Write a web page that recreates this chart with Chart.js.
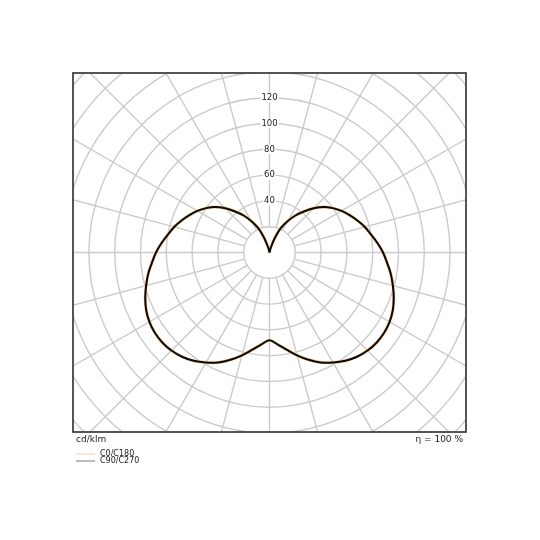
<!DOCTYPE html>
<html>
<head>
<meta charset="utf-8">
<script src="https://cdn.jsdelivr.net/npm/chart.js@4.4.1/dist/chart.umd.min.js"></script>
<style>
  html, body { margin: 0; padding: 0; background: #fff; }
  #wrap { width: 540px; height: 540px; }
</style>
</head>
<body>
<div id="wrap"><canvas id="ldc" width="540" height="540"></canvas></div>
<script>
// Polar luminous intensity diagram (cd/klm)

// gamma angle from nadir, degrees
const GAMMA = [0, 5, 10, 15, 20, 25, 30, 35, 40, 45, 50, 55, 60, 65, 70, 75, 80, 85, 90,
               95, 100, 105, 110, 115, 120, 125, 130, 135, 140, 145, 150, 155, 160, 165, 170, 175, 180];
// intensity per gamma, cd/klm
const C0_C180 = [68, 71.5, 76.5, 82.5, 88.5, 94, 98.5, 102.5, 105.5, 107.5, 108.5, 108.5, 107.5, 105.5, 102.5, 99, 95.5, 91.5, 88,
                 84, 80, 76.5, 72.5, 68.5, 64.5, 60, 55, 48.5, 41.5, 35, 28, 21, 12, 4, 0, 0, 0];
const C90_C270 = [68, 71.5, 76.5, 82.5, 88.5, 94, 98.5, 102.5, 105.5, 107.5, 108.5, 108.5, 107.5, 105.5, 102.5, 99, 95.5, 91.5, 88,
                  84, 80, 76.5, 72.5, 68.5, 64.5, 60, 55, 48.5, 41.5, 35, 28, 21, 12, 4, 0, 0, 0];

const RINGS = [20, 40, 60, 80, 100, 120, 140, 160, 180, 200, 220];
const TICK_LABELS = ['40', '60', '80', '100', '120'];
const SPOKE_STEP = 15;

const SERIES_NAMES = ['C0/C180', 'C90/C270'];
const SERIES_COLORS = ['#f8c68c', '#0a0a0a'];
const LEGEND_COLORS = ['#f8d2a2', '#777777'];

// one full curve: left half (C180 / C270) then right half (C0 / C90)
function toPoints(values) {
    const pts = [];
    for (let i = GAMMA.length - 1; i >= 0; i--) {
        const a = GAMMA[i] * Math.PI / 180;
        pts.push({ x: -values[i] * Math.sin(a), y: -values[i] * Math.cos(a) });
    }
    for (let i = 1; i < GAMMA.length; i++) {
        const a = GAMMA[i] * Math.PI / 180;
        pts.push({ x: values[i] * Math.sin(a), y: -values[i] * Math.cos(a) });
    }
    return pts;
}

const polarGrid = {
    id: 'polarGrid',
    beforeDatasetsDraw(chart) {
        const { ctx, chartArea: area, scales } = chart;
        const cx = scales.x.getPixelForValue(0);
        const cy = scales.y.getPixelForValue(0);
        const k = scales.x.getPixelForValue(1) - cx;
        const r0 = RINGS[0] * k;
        const rMax = (RINGS[RINGS.length - 1] + 20) * k;

        ctx.save();
        ctx.beginPath();
        ctx.rect(area.left, area.top, area.right - area.left, area.bottom - area.top);
        ctx.clip();
        ctx.strokeStyle = '#cbcbcb';
        ctx.lineWidth = 1.4;

        RINGS.forEach(v => {
            ctx.beginPath();
            ctx.arc(cx, cy, v * k, 0, Math.PI * 2);
            ctx.stroke();
        });
        for (let d = 0; d < 360; d += SPOKE_STEP) {
            const a = d * Math.PI / 180;
            ctx.beginPath();
            ctx.moveTo(cx + r0 * Math.cos(a), cy + r0 * Math.sin(a));
            ctx.lineTo(cx + rMax * Math.cos(a), cy + rMax * Math.sin(a));
            ctx.stroke();
        }

        ctx.font = '8.5px "DejaVu Sans"';
        ctx.textAlign = 'center';
        ctx.textBaseline = 'middle';
        TICK_LABELS.forEach(t => {
            const y = cy - Number(t) * k;
            const w = ctx.measureText(t).width;
            ctx.fillStyle = '#ffffff';
            ctx.fillRect(cx - w / 2 - 1, y - 4.5, w + 2, 9);
            ctx.fillStyle = '#222222';
            ctx.fillText(t, cx, y);
        });
        ctx.restore();
    },
    afterDraw(chart) {
        const { ctx, chartArea: area } = chart;
        ctx.save();
        ctx.strokeStyle = '#444444';
        ctx.lineWidth = 1.8;
        ctx.strokeRect(area.left, area.top, area.right - area.left, area.bottom - area.top);

        ctx.fillStyle = '#222222';
        ctx.font = '9px "DejaVu Sans"';
        ctx.textBaseline = 'middle';
        ctx.textAlign = 'left';
        ctx.fillText('cd/klm', area.left + 3, area.bottom + 8);
        ctx.textAlign = 'right';
        ctx.fillText('η = 100 %', area.right - 3, area.bottom + 8);

        // legend
        ctx.font = '8px "DejaVu Sans"';
        ctx.textAlign = 'left';
        SERIES_NAMES.forEach((name, i) => {
            const y = area.bottom + 22 + i * 7;
            ctx.strokeStyle = LEGEND_COLORS[i];
            ctx.lineWidth = 1;
            ctx.beginPath();
            ctx.moveTo(area.left + 3, y);
            ctx.lineTo(area.left + 22, y);
            ctx.stroke();
            ctx.fillStyle = '#222222';
            ctx.fillText(name, area.left + 27, y);
        });
        ctx.restore();
    }
};

const K = 1.29;           // px per cd/klm
const X_HALF = 196.5 / K;
const Y_HALF = 179.5 / K;

new Chart(document.getElementById('ldc'), {
    type: 'scatter',
    data: {
        datasets: [{
            label: SERIES_NAMES[0],
            data: toPoints(C0_C180),
            showLine: true,
            borderColor: SERIES_COLORS[0],
            borderWidth: 3,
            pointRadius: 0,
            tension: 0.35,
            order: 2
        }, {
            label: SERIES_NAMES[1],
            data: toPoints(C90_C270),
            showLine: true,
            borderColor: SERIES_COLORS[1],
            borderWidth: 2,
            pointRadius: 0,
            tension: 0.35,
            order: 1
        }]
    },
    options: {
        responsive: false,
        animation: false,
        layout: { padding: { left: 73, top: 73, right: 74, bottom: 108 } },
        plugins: {
            legend: { display: false },
            tooltip: { enabled: false }
        },
        scales: {
            x: { type: 'linear', min: -X_HALF, max: X_HALF, display: false },
            y: { type: 'linear', min: -Y_HALF, max: Y_HALF, display: false }
        }
    },
    plugins: [polarGrid]
});
</script>
</body>
</html>
